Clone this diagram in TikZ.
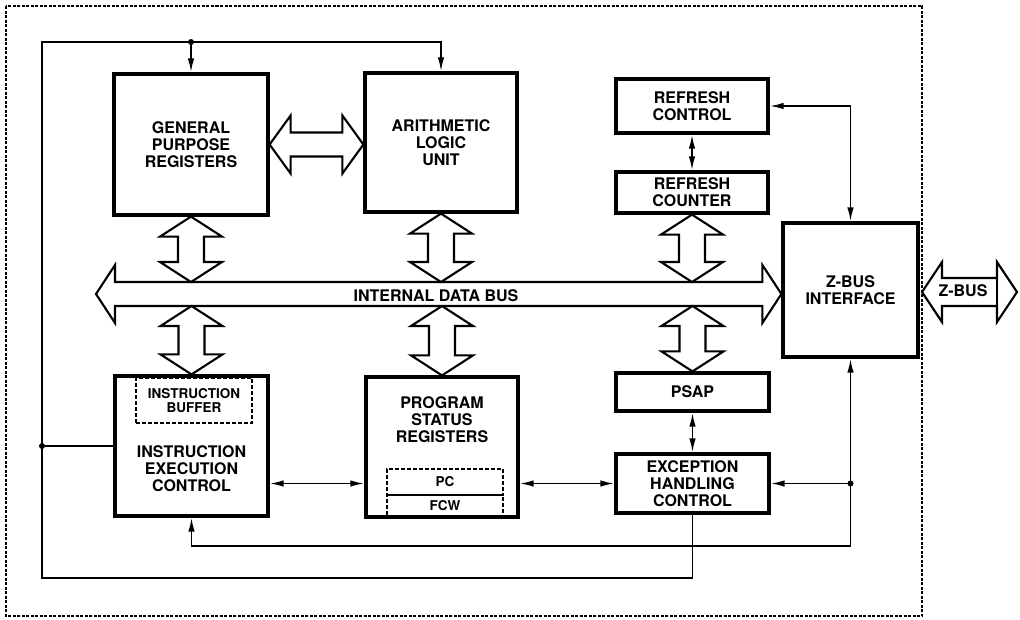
\documentclass[tikz,border=0pt]{standalone}
\usepackage{fontspec}
\setmainfont{TeX Gyre Heros}
\usetikzlibrary{arrows.meta,calc}
\newcommand{\zlbl}{\fontsize{16}{17}\selectfont\bfseries}
\newcommand{\zsml}{\fontsize{13.5}{14.5}\selectfont\bfseries}
% vertical fat double arrow from #1 (top tip) to #2 (bottom tip)
\newcommand{\fatV}[2]{%
  \draw[fat] let \p1=(#1), \p2=(#2) in
   (\x1,\y1) -- (\x1+31pt,\y1-20pt) -- (\x1+13pt,\y1-20pt) -- (\x1+13pt,\y2+20pt)
   -- (\x1+31pt,\y2+20pt) -- (\x1,\y2) -- (\x1-31pt,\y2+20pt) -- (\x1-13pt,\y2+20pt)
   -- (\x1-13pt,\y1-20pt) -- (\x1-31pt,\y1-20pt) -- cycle;}
% horizontal fat double arrow: left tip #1, right tip #2, shaft half #3, head half #4, head length #5
\newcommand{\fatH}[5]{%
  \draw[fat] let \p1=(#1), \p2=(#2) in
   (\x1,\y1) -- (\x1+#5,\y1+#4) -- (\x1+#5,\y1+#3) -- (\x2-#5,\y1+#3) -- (\x2-#5,\y1+#4)
   -- (\x2,\y1) -- (\x2-#5,\y1-#4) -- (\x2-#5,\y1-#3) -- (\x1+#5,\y1-#3) -- (\x1+#5,\y1-#4) -- cycle;}
\begin{document}
\begin{tikzpicture}[x=1pt,y=-1pt,
  blk/.style={draw, line width=3.2pt, inner sep=0pt, align=center, font=\zlbl},
  sub/.style={draw, line width=1.8pt, dash pattern=on 4pt off 2pt, inner sep=0pt, align=center, font=\zsml},
  txt/.style={inner sep=0pt, align=center, font=\zlbl},
  fat/.style={draw, line width=2.1pt, line join=miter, fill=white},
  wire/.style={line width=1.8pt},
  border/.style={line width=1.4pt, dash pattern=on 3pt off 1.5pt},
  dot/.style={circle, fill, inner sep=0pt, minimum size=6pt},
  >={Latex[length=14pt,width=6.5pt]}]
\useasboundingbox (0,0) rectangle (1020,619);
\draw[border] (6,6) rectangle (922,616);

% coordinates
\coordinate (tl) at (42,42);
\coordinate (lb) at (42,578);
\coordinate (b2) at (0,546);
\coordinate (busL) at (96,294);
\coordinate (busT) at (0,282);
\coordinate (busB) at (0,306);
\coordinate (zbL) at (922,292);
\coordinate (zbR) at (1017,292);

% blocks
\node[blk, minimum width=154, minimum height=141] (gpr) at (191,144.5) {GENERAL\\PURPOSE\\REGISTERS};
\node[blk, minimum width=152, minimum height=139] (alu) at (441,142.5) {ARITHMETIC\\LOGIC\\UNIT};
\node[blk, minimum width=152, minimum height=54] (rfc) at (692,106) {REFRESH\\CONTROL};
\node[blk, minimum width=152, minimum height=41] (rcnt) at (692,192.5) {REFRESH\\COUNTER};
\node[blk, minimum width=135, minimum height=134] (zbi) at (850.5,290) {Z-BUS\\INTERFACE};
\node[blk, minimum width=153, minimum height=140] (iec) at (191.5,446) {};
\node[txt] (iect) at (191.5,469) {INSTRUCTION\\EXECUTION\\CONTROL};
\node[sub, minimum width=116, minimum height=45] (ib) at (194,400.5) {INSTRUCTION\\BUFFER};
\node[blk, minimum width=152, minimum height=140] (psr) at (442,447) {};
\node[txt] (psrt) at (442,420) {PROGRAM\\STATUS\\REGISTERS};
\node[sub, minimum width=116, minimum height=26] (pc) at (445,482) {PC};
\node[sub, minimum width=116, minimum height=22] (fcw) at (445,506) {FCW};
\node[blk, minimum width=153, minimum height=38] (psap) at (692.5,392) {PSAP};
\node[blk, minimum width=153, minimum height=59] (ehc) at (692.5,483.5) {EXCEPTION\\HANDLING\\CONTROL};

% internal data bus
\fatH{busL}{busL -| zbi.west}{12pt}{29pt}{19pt}
\node[txt] (bustext) at (436,296) {INTERNAL DATA BUS};

% fat arrows to/from bus
\fatV{gpr.south}{gpr.south |- busT}
\fatV{alu.south}{alu.south |- busT}
\fatV{rcnt.south}{rcnt.south |- busT}
\fatV{iec.north |- busB}{iec.north}
\fatV{psr.north |- busB}{psr.north}
\fatV{psap.north |- busB}{psap.north}
\fatH{gpr.east}{gpr.east -| alu.west}{12pt}{29pt}{21pt}

% external Z-BUS
\fatH{zbL}{zbR}{14pt}{30pt}{20pt}
\draw[fat] ($(zbR)+(-20,-14)$) -- ($(zbR)+(-20,14)$);
\node[txt] (zbtext) at (963,291) {Z-BUS};

% wires
\draw[wire,->] (ehc.south) -- (ehc.south |- lb) -- (lb) -- (tl) -| (alu.north);
\draw[wire,->] (gpr.north |- tl) -- (gpr.north);
\draw[wire] (lb |- iec.west) -- (iec.west);
\draw[wire,<->] (rfc.south) -- (rcnt.north);
\draw[wire,<->] (rfc.east) -| (zbi.north);
\draw[wire,<->] (iec.east |- ehc.east) -- (psr.west |- ehc.east);
\draw[wire,<->] (psr.east |- ehc.east) -- (ehc.west);
\draw[wire,<->] (psap.south) -- (ehc.north);
\draw[wire,<->] (iec.south) -- (iec.south |- b2) -| (zbi.south);
\draw[wire,->] (zbi.south |- ehc.east) -- (ehc.east);

% junction dots
\node[dot] (d1) at (gpr.north |- tl) {};
\node[dot] (d2) at (lb |- iec.west) {};
\node[dot] (d3) at (zbi.south |- ehc.east) {};
\end{tikzpicture}
\end{document}
